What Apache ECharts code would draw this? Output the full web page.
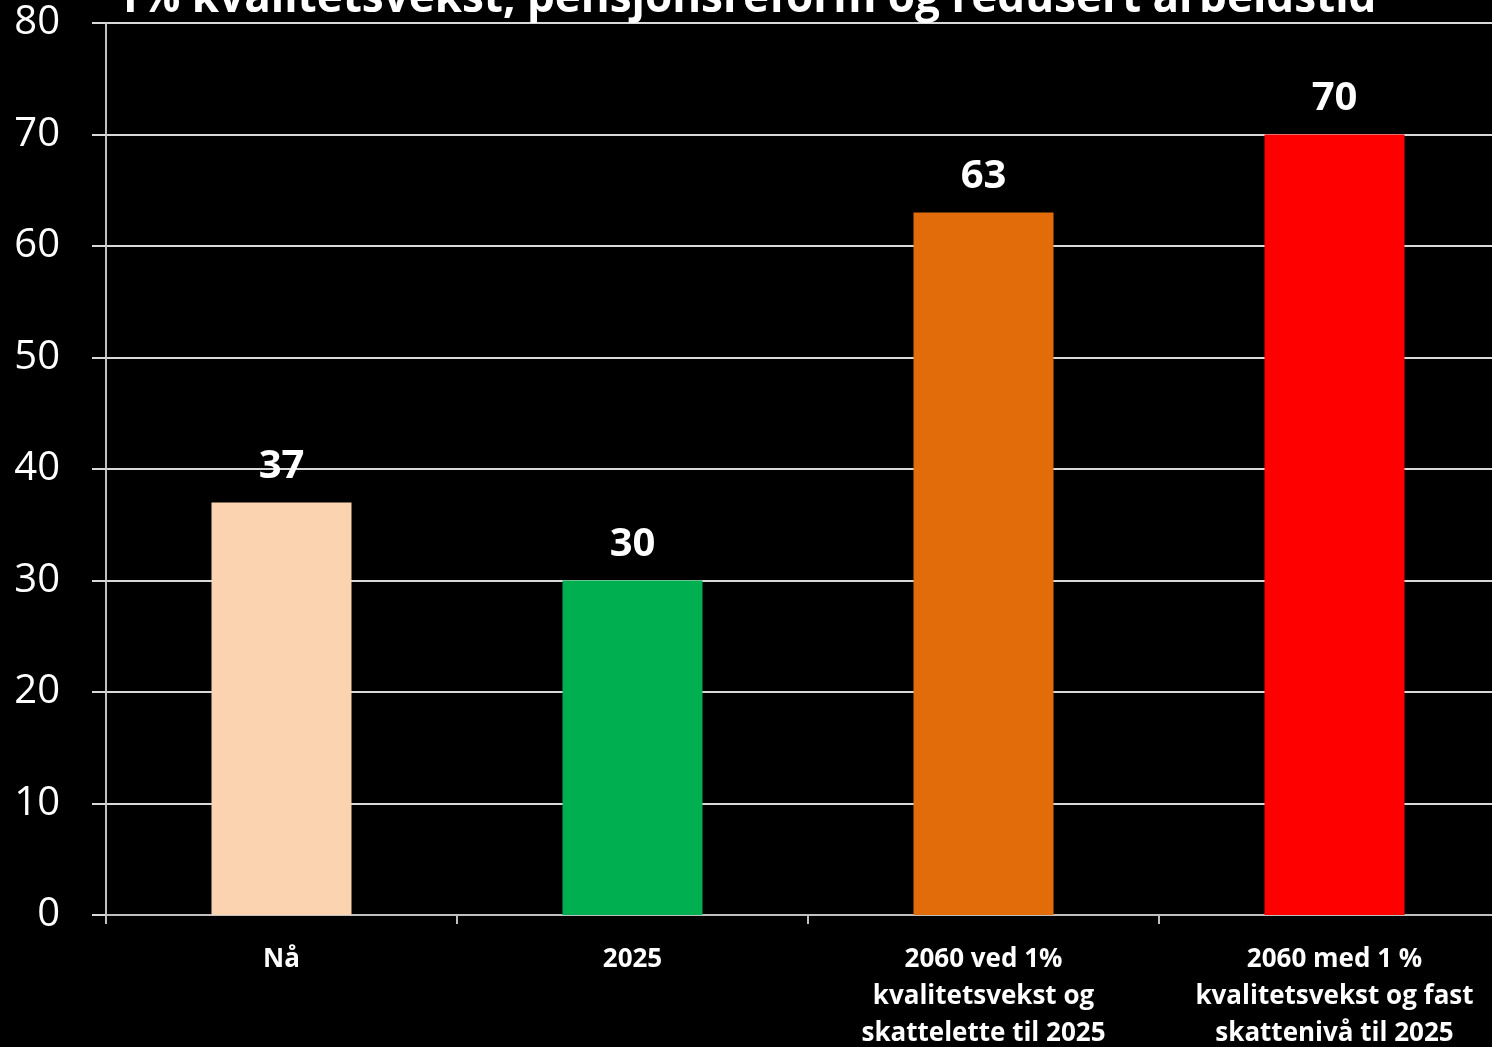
<!DOCTYPE html>
<html>
<head>
<meta charset="utf-8">
<script src="https://cdn.jsdelivr.net/npm/echarts@6/dist/echarts.min.js"></script>
<style>
html,body{margin:0;padding:0;background:#000;}
#chart{width:1492px;height:1047px;}
</style>
</head>
<body>
<div id="chart"></div>
<script>
const titleText = '1% kvalitetsvekst, pensjonsreform og redusert arbeidstid';
const categories = ['Nå', '2025', '2060 ved 1%\nkvalitetsvekst og\nskattelette til 2025', '2060 med 1 %\nkvalitetsvekst og fast\nskattenivå til 2025'];
const values = [37, 30, 63, 70];
const barColors = ['#FCD3B1', '#00B050', '#E36C0A', '#FF0000'];
const yTicks = {min: 0, max: 80, interval: 10};

const chart = echarts.init(document.getElementById('chart'));
chart.setOption({
  backgroundColor: '#000000',
  animation: false,
  title: {
    text: titleText,
    left: 'center',
    top: -28,
    textStyle: {color: '#ffffff', fontSize: 44, fontWeight: 'bold', fontFamily: 'Open Sans'}
  },
  grid: {left: 106, width: 1404, top: 23, bottom: 132, containLabel: false, outerBoundsMode: 'none'},
  xAxis: {
    type: 'category',
    data: categories,
    axisLine: {lineStyle: {color: '#bfbfbf', width: 2}},
    axisTick: {show: true, alignWithLabel: false, length: 9, lineStyle: {color: '#bfbfbf', width: 2}},
    axisLabel: {color: '#ffffff', fontSize: 26, fontWeight: 'bold', fontFamily: 'Open Sans', lineHeight: 37, margin: 26, interval: 0}
  },
  yAxis: {
    type: 'value',
    min: yTicks.min, max: yTicks.max, interval: yTicks.interval,
    axisLine: {show: true, lineStyle: {color: '#bfbfbf', width: 2}},
    axisTick: {show: true, length: 14, lineStyle: {color: '#d9d9d9', width: 2}},
    splitLine: {show: true, lineStyle: {color: '#d9d9d9', width: 2}},
    axisLabel: {color: '#ffffff', fontSize: 40, fontFamily: 'Open Sans', margin: 46, padding: [7, 0, 0, 0]}
  },
  series: [{
    type: 'bar',
    data: values.map((v, i) => ({value: v, itemStyle: {color: barColors[i]}})),
    barWidth: 140,
    label: {show: true, position: 'top', distance: 16, color: '#ffffff', fontSize: 40, fontWeight: 'bold', fontFamily: 'Open Sans'}
  }]
});
</script>
</body>
</html>
